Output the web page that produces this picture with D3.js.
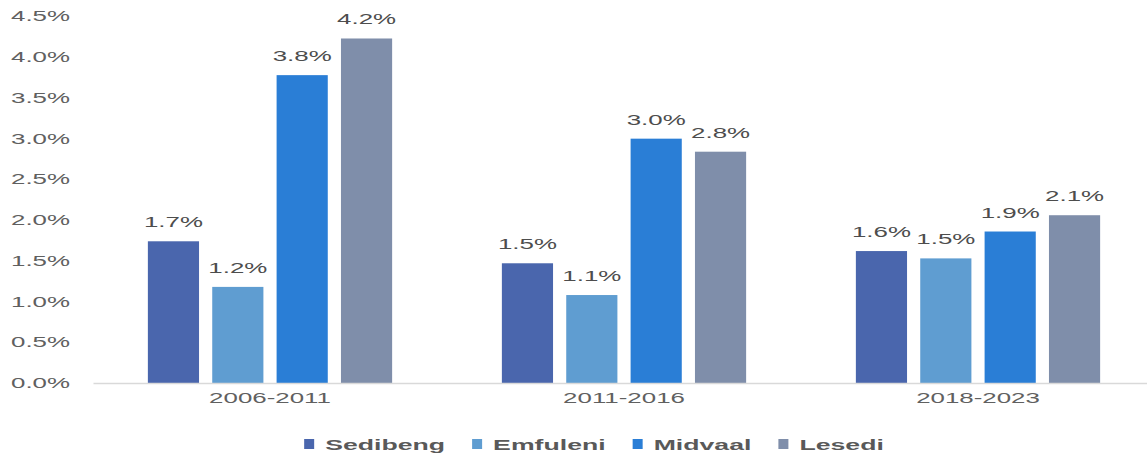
<!DOCTYPE html>
<html>
<head>
<meta charset="utf-8">
<script src="https://cdn.jsdelivr.net/npm/d3@7"></script>
<style>
  html, body { margin: 0; padding: 0; background: #fff; }
  svg { display: block; font-family: "Liberation Sans", Arial, sans-serif; }
</style>
</head>
<body>
<svg id="chart" width="1147" height="457"></svg>
<script>
// Average annual population growth by municipality
const periods = ["2006-2011", "2011-2016", "2018-2023"];
const municipalities = ["Sedibeng", "Emfuleni", "Midvaal", "Lesedi"];
const sedibeng = [1.74, 1.47, 1.62];
const emfuleni = [1.18, 1.08, 1.53];
const midvaal  = [3.78, 3.00, 1.86];
const lesedi   = [4.23, 2.84, 2.06];
const yTicks = [0, 0.5, 1.0, 1.5, 2.0, 2.5, 3.0, 3.5, 4.0, 4.5];
const colors = ["#4a66ad", "#5f9dd1", "#2a7ed6", "#7f8eaa"];

const seriesValues = [sedibeng, emfuleni, midvaal, lesedi];
const rows = periods.map((p, i) => ({
  period: p,
  values: municipalities.map((m, j) => ({ name: m, value: seriesValues[j][i] }))
}));

// The typeface is drawn wide, so text is stretched horizontally.
const SX = 1.85;
const fmt = v => d3.format(".1f")(v) + "%";

const svg = d3.select("#chart");

const y = d3.scaleLinear().domain([0, 4.5]).range([383, 16.5]);
const x0 = d3.scaleBand().domain(periods).range([93, 1155])
  .paddingInner(0.31).paddingOuter(0.155);
const x1 = d3.scaleBand().domain(municipalities).range([0, x0.bandwidth()])
  .paddingInner(0.205).paddingOuter(0);
const color = d3.scaleOrdinal().domain(municipalities).range(colors);

// Y axis labels
const yAxis = svg.append("g")
  .attr("transform", "translate(70,0)")
  .call(d3.axisLeft(y).tickValues(yTicks).tickFormat(d => d3.format(".1f")(d) + "%")
    .tickSize(0).tickPadding(0));
yAxis.select(".domain").remove();
yAxis.selectAll("text")
  .attr("x", 0)
  .attr("transform", `scale(${SX},1)`)
  .style("font-family", '"Liberation Sans", Arial, sans-serif')
  .style("font-size", "14px")
  .attr("fill", "#606060");

// Bars
const groups = svg.append("g").selectAll("g")
  .data(rows).join("g")
  .attr("transform", d => `translate(${x0(d.period)},0)`);

groups.selectAll("rect")
  .data(d => d.values).join("rect")
  .attr("x", d => x1(d.name))
  .attr("y", d => y(d.value))
  .attr("width", x1.bandwidth())
  .attr("height", d => y(0) - y(d.value))
  .attr("fill", d => color(d.name));

groups.selectAll("text.val")
  .data(d => d.values).join("text")
  .attr("class", "val")
  .attr("transform", d => `translate(${x1(d.name) + x1.bandwidth() / 2},${y(d.value) - 14}) scale(${SX},1)`)
  .attr("text-anchor", "middle")
  .style("font-size", "14px")
  .attr("fill", "#4d4d4d")
  .text(d => fmt(d.value));

// X axis
const xAxis = svg.append("g")
  .attr("transform", `translate(0,${y(0)})`)
  .call(d3.axisBottom(x0).tickSize(0).tickSizeOuter(0).tickPadding(10.5));
xAxis.select(".domain")
  .attr("stroke", "#d9d9d9")
  .attr("stroke-width", 1.5);
xAxis.selectAll("text")
  .attr("transform", `scale(${SX},1)`)
  .style("font-family", '"Liberation Sans", Arial, sans-serif')
  .style("font-size", "14px")
  .attr("fill", "#606060");

// Legend
const LSX = 1.72;
const legend = svg.append("g");
const items = legend.selectAll("g").data(municipalities).join("g");
items.append("rect")
  .attr("x", 0).attr("y", -5)
  .attr("width", 10).attr("height", 10)
  .attr("fill", d => color(d));
items.append("text")
  .attr("transform", `translate(21,6) scale(${LSX},1)`)
  .style("font-size", "15.5px")
  .style("font-weight", "bold")
  .attr("fill", "#595959")
  .text(d => d);

let cursor = 0;
const gap = 27;
items.each(function () {
  const g = d3.select(this);
  const w = 21 + g.select("text").node().getComputedTextLength() * LSX;
  g.attr("transform", `translate(${cursor},444)`);
  cursor += w + gap;
});
const totalW = cursor - gap;
legend.attr("transform", `translate(${594 - totalW / 2},0)`);
</script>
</body>
</html>
